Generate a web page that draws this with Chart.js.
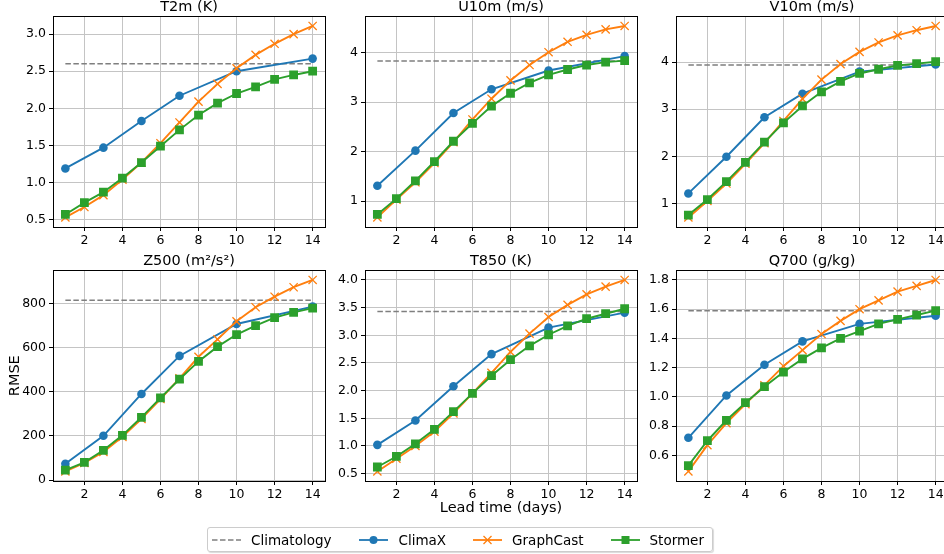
<!DOCTYPE html>
<html>
<head>
<meta charset="utf-8">
<script src="https://cdn.jsdelivr.net/npm/chart.js@4.4.0/dist/chart.umd.min.js"></script>
<style>
  body { margin: 0; background: #fff; width: 944px; height: 554px; overflow: hidden; position: relative; font-family: "DejaVu Sans", sans-serif; }
  canvas { position: absolute; }
  #legend {
    position: absolute; left: 207px; top: 527px; width: 506px; height: 25px;
    border: 1px solid #cccccc; border-radius: 3px; box-sizing: border-box;
    display: flex; align-items: center; font-size: 13.5px; color: #000;
    box-shadow: 1px 1px 1px rgba(0,0,0,0.15);
  }
  #legend .item { display: flex; align-items: center; }
  #legend svg { margin-right: 10px; }
</style>
</head>
<body>
<canvas id="p0"></canvas>
<canvas id="p1"></canvas>
<canvas id="p2"></canvas>
<canvas id="p3"></canvas>
<canvas id="p4"></canvas>
<canvas id="p5"></canvas>
<div id="legend">
  <div class="item" style="margin-left:4px">
    <svg width="29" height="10"><line x1="0" y1="5" x2="29" y2="5" stroke="#7f7f7f" stroke-width="1.5" stroke-dasharray="5.5 2.5"/></svg>Climatology
  </div>
  <div class="item" style="margin-left:28px">
    <svg width="29" height="10"><line x1="0" y1="5" x2="29" y2="5" stroke="#1f77b4" stroke-width="1.8"/><circle cx="14.5" cy="5" r="4" fill="#1f77b4"/></svg>ClimaX
  </div>
  <div class="item" style="margin-left:27px">
    <svg width="29" height="10"><line x1="0" y1="5" x2="29" y2="5" stroke="#ff7f0e" stroke-width="1.8"/><path d="M10.5 1 L18.5 9 M18.5 1 L10.5 9" stroke="#ff7f0e" stroke-width="1.3"/></svg>GraphCast
  </div>
  <div class="item" style="margin-left:27px">
    <svg width="29" height="10"><line x1="0" y1="5" x2="29" y2="5" stroke="#2ca02c" stroke-width="1.8"/><rect x="10.5" y="1" width="8" height="8" fill="#2ca02c"/></svg>Stormer
  </div>
</div>
<script>
// lead times
const days = [1, 2, 3, 4, 5, 6, 7, 8, 9, 10, 11, 12, 13, 14];
const climaxDays = [1, 3, 5, 7, 10, 14];

// T2m (K)
const t2mClimaX = [1.19, 1.47, 1.83, 2.17, 2.50, 2.67];
const t2mGraphCast = [0.53, 0.67, 0.83, 1.04, 1.27, 1.53, 1.81, 2.09, 2.33, 2.54, 2.72, 2.87, 3.00, 3.11];
const t2mStormer = [0.57, 0.73, 0.87, 1.06, 1.27, 1.49, 1.71, 1.91, 2.07, 2.20, 2.29, 2.39, 2.45, 2.50];
const t2mClim = 2.60;

// U10m (m/s)
const u10ClimaX = [1.31, 2.02, 2.78, 3.26, 3.64, 3.93];
const u10GraphCast = [0.67, 1.03, 1.38, 1.77, 2.19, 2.65, 3.07, 3.44, 3.75, 4.01, 4.22, 4.36, 4.47, 4.54];
const u10Stormer = [0.73, 1.05, 1.41, 1.80, 2.21, 2.57, 2.92, 3.18, 3.39, 3.55, 3.66, 3.75, 3.81, 3.84];
const u10Clim = 3.83;

// V10m (m/s)
const v10ClimaX = [1.21, 1.99, 2.83, 3.33, 3.80, 3.95];
const v10GraphCast = [0.70, 1.05, 1.42, 1.84, 2.28, 2.75, 3.22, 3.63, 3.96, 4.22, 4.42, 4.57, 4.68, 4.77];
const v10Stormer = [0.75, 1.08, 1.46, 1.87, 2.30, 2.71, 3.07, 3.37, 3.59, 3.76, 3.85, 3.93, 3.97, 4.01];
const v10Clim = 3.94;

// Z500 (m2/s2)
const z500ClimaX = [74, 201, 391, 564, 709, 788];
const z500GraphCast = [39, 78, 128, 196, 278, 368, 462, 560, 639, 721, 785, 833, 876, 909];
const z500Stormer = [45, 80, 135, 203, 285, 373, 458, 539, 606, 661, 702, 738, 762, 781];
const z500Clim = 817;

// T850 (K)
const t850ClimaX = [1.02, 1.46, 2.08, 2.66, 3.14, 3.41];
const t850GraphCast = [0.54, 0.77, 1.00, 1.26, 1.59, 1.95, 2.32, 2.70, 3.03, 3.33, 3.55, 3.74, 3.88, 4.00];
const t850Stormer = [0.62, 0.81, 1.04, 1.30, 1.62, 1.95, 2.27, 2.56, 2.81, 3.01, 3.17, 3.30, 3.39, 3.48];
const t850Clim = 3.43;

// Q700 (g/kg)
const q700ClimaX = [0.72, 1.01, 1.22, 1.38, 1.50, 1.555];
const q700GraphCast = [0.49, 0.67, 0.82, 0.95, 1.08, 1.21, 1.32, 1.43, 1.52, 1.60, 1.66, 1.72, 1.76, 1.80];
const q700Stormer = [0.53, 0.70, 0.84, 0.96, 1.07, 1.17, 1.26, 1.335, 1.40, 1.45, 1.50, 1.53, 1.56, 1.59];
const q700Clim = 1.59;

const titles = ["T2m (K)", "U10m (m/s)", "V10m (m/s)", "Z500 (m\u00b2/s\u00b2)", "T850 (K)", "Q700 (g/kg)"];
const yStep = [0.5, 1, 1, 200, 0.5, 0.2];
const yDec = [1, 0, 0, 0, 1, 1];

const panels = [
  [t2mClimaX, t2mGraphCast, t2mStormer, t2mClim],
  [u10ClimaX, u10GraphCast, u10Stormer, u10Clim],
  [v10ClimaX, v10GraphCast, v10Stormer, v10Clim],
  [z500ClimaX, z500GraphCast, z500Stormer, z500Clim],
  [t850ClimaX, t850GraphCast, t850Stormer, t850Clim],
  [q700ClimaX, q700GraphCast, q700Stormer, q700Clim],
];

const FONT = "'DejaVu Sans', sans-serif";
const colLeft = [0, 312, 623];
const rowTop = [-1, 253];
const yAxisW = 53, plotW = 272, padR = 12;
const titleH = 18, plotH = 210, xAxisH = 40;

const toPts = (xs, ys) => xs.map((x, i) => ({ x: x, y: ys[i] }));

// box around the plot area (matplotlib spines)
const frame = {
  id: "frame",
  afterDraw(chart) {
    const a = chart.chartArea, ctx = chart.ctx;
    ctx.save();
    ctx.strokeStyle = "#000";
    ctx.lineWidth = 1;
    ctx.strokeRect(Math.round(a.left) + 0.5, Math.round(a.top) + 0.5, Math.round(a.right - a.left), Math.round(a.bottom - a.top));
    ctx.restore();
  }
};

function fixSize(prop, val) {
  return (scale) => {
    scale[prop] = val;
    scale.paddingLeft = 0; scale.paddingRight = 0;
    scale.paddingTop = 0; scale.paddingBottom = 0;
  };
}

panels.forEach((p, i) => {
  const [cx, gc, st, clim] = p;
  const all = cx.concat(gc, st, [clim]);
  const lo = Math.min(...all), hi = Math.max(...all);
  const m = (hi - lo) * 0.05;

  const cv = document.getElementById("p" + i);
  cv.width = yAxisW + plotW + padR;
  cv.height = titleH + plotH + xAxisH;
  cv.style.left = colLeft[i % 3] + "px";
  cv.style.top = rowTop[Math.floor(i / 3)] + "px";

  new Chart(cv, {
    type: "line",
    data: {
      datasets: [
        { label: "Climatology", data: toPts([1, 14], [clim, clim]), borderColor: "#7f7f7f", borderWidth: 1.5, borderDash: [5.5, 2.5], pointRadius: 0, order: 4 },
        { label: "ClimaX", data: toPts(climaxDays, cx), borderColor: "#1f77b4", backgroundColor: "#1f77b4", borderWidth: 1.9, pointStyle: "circle", pointRadius: 4.3, pointBorderWidth: 0, order: 3 },
        { label: "GraphCast", data: toPts(days, gc), borderColor: "#ff7f0e", backgroundColor: "#ff7f0e", borderWidth: 1.9, pointStyle: "crossRot", pointRadius: 5.8, pointBorderWidth: 1.3, order: 2 },
        { label: "Stormer", data: toPts(days, st), borderColor: "#2ca02c", backgroundColor: "#2ca02c", borderWidth: 1.9, pointStyle: "rect", pointRadius: 6.2, pointBorderWidth: 0, order: 1 },
      ]
    },
    options: {
      responsive: false,
      animation: false,
      events: [],
      layout: { padding: { left: 0, right: padR, top: 0, bottom: 0 } },
      plugins: {
        legend: { display: false },
        tooltip: { enabled: false },
        title: {
          display: true, text: titles[i], fullSize: false, color: "#000",
          font: { family: FONT, size: 14.5, weight: "normal" },
          padding: { top: 0, bottom: 0 }
        }
      },
      scales: {
        x: {
          type: "linear", min: 0.35, max: 14.65,
          afterFit: fixSize("height", xAxisH),
          ticks: { stepSize: 2, includeBounds: false, color: "#000", padding: 2, maxRotation: 0, font: { family: FONT, size: 12.5 } },
          grid: { color: "#c4c4c4", lineWidth: 1, tickColor: "#000", tickLength: 4 },
          border: { color: "#000", width: 1 },
          title: { display: i === 4, text: "Lead time (days)", color: "#000", font: { family: FONT, size: 14.5 }, padding: { top: 0, bottom: 4.3 } }
        },
        y: {
          min: lo - m, max: hi + m,
          afterFit: fixSize("width", yAxisW),
          ticks: { stepSize: yStep[i], includeBounds: false, color: "#000", padding: 3, font: { family: FONT, size: 12.5 },
                   callback: (v) => Number(v).toFixed(yDec[i]) },
          grid: { color: "#c4c4c4", lineWidth: 1, tickColor: "#000", tickLength: 4 },
          border: { color: "#000", width: 1 },
          title: { display: i === 3, text: "RMSE", color: "#000", font: { family: FONT, size: 14.5 }, padding: { top: 6.3, bottom: 0 } }
        }
      }
    },
    plugins: [frame]
  });
});
</script>
</body>
</html>
